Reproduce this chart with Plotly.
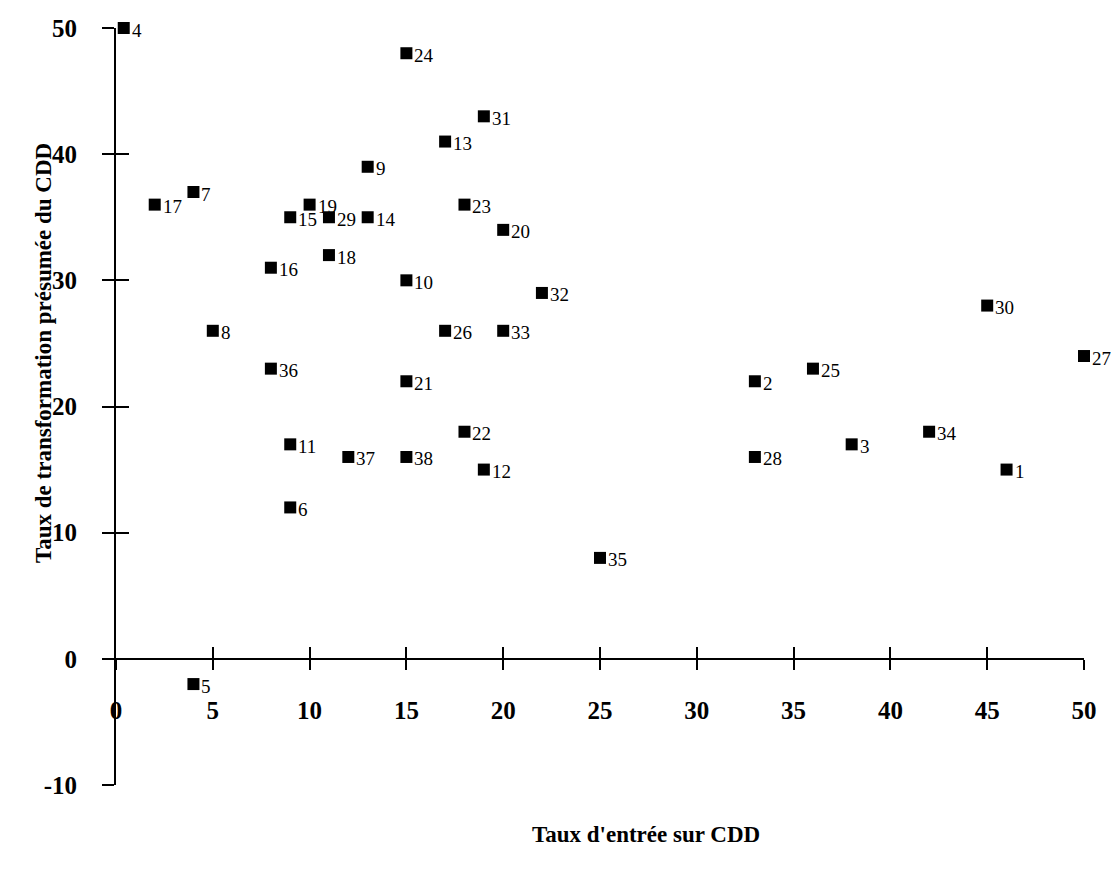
import plotly.graph_objects as go

ids = list(range(1, 39))
x_vals = [46, 33, 38, 0.4, 4, 9, 4, 5, 13, 15, 9, 19, 17, 13, 9, 8, 2, 11, 10, 20,
          15, 18, 18, 15, 36, 17, 50, 33, 11, 45, 19, 22, 20, 42, 25, 8, 12, 15]
y_vals = [15, 22, 17, 50, -2, 12, 37, 26, 39, 30, 17, 15, 41, 35, 35, 31, 36, 32, 36, 34,
          22, 18, 36, 48, 23, 26, 24, 16, 35, 28, 43, 29, 26, 18, 8, 23, 16, 16]
x_ticks = [0, 5, 10, 15, 20, 25, 30, 35, 40, 45, 50]
y_ticks = [-10, 0, 10, 20, 30, 40, 50]
y_ticktext = ["-10", "0", "10", "20", "30", "40", "50"]
x_title = "Taux d'entrée sur CDD"
y_title = "Taux de transformation présumée du CDD"

FONT = "Liberation Serif, Times New Roman, serif"

W, H = 1112, 853
L, R, T, B = 108, 36, 20, 76

fig = go.Figure()
fig.add_trace(go.Scatter(
    x=x_vals, y=y_vals, mode="markers",
    marker=dict(symbol="square", size=12, color="black"),
    cliponaxis=False, showlegend=False, hoverinfo="skip",
))
# invisible trace to activate overlay axes (for crossing ticks)
fig.add_trace(go.Scatter(
    x=x_vals, y=y_vals, mode="markers", xaxis="x2", yaxis="y2",
    marker=dict(size=1, color="rgba(0,0,0,0)"), showlegend=False, hoverinfo="skip",
))

annotations = []
for i, xv, yv in zip(ids, x_vals, y_vals):
    annotations.append(dict(
        x=xv, y=yv, xref="x", yref="y", text=str(i), showarrow=False,
        xanchor="left", yanchor="middle", xshift=7, yshift=-2, borderpad=0,
        font=dict(family=FONT, size=19, color="black"),
    ))

tick_font = dict(family=FONT, size=25, color="black", weight="bold")
title_font = dict(family=FONT, size=23, color="black", weight="bold")

pw = W - L - R
ph = H - T - B
annotations.append(dict(text=x_title, xref="paper", yref="paper",
                        x=(645 - 7 - L) / pw, y=-(833 - 784) / ph,
                        xanchor="center", yanchor="middle", showarrow=False, font=title_font))
annotations.append(dict(text=y_title, xref="paper", yref="paper",
                        x=-(113 - 40) / pw, y=(784 - 352) / ph,
                        xanchor="center", yanchor="middle", textangle=-90,
                        showarrow=False, font=title_font))

fig.update_layout(
    width=W, height=H,
    margin=dict(l=L, r=R, t=T, b=B, autoexpand=False),
    plot_bgcolor="white", paper_bgcolor="white",
    xaxis=dict(range=[0, 50], tickvals=x_ticks, anchor="free", position=1/6,
               showline=True, linecolor="black", linewidth=2,
               ticks="outside", ticklen=10, tickwidth=2, tickcolor="black",
               tickfont=tick_font, ticklabelstandoff=19,
               showgrid=False, zeroline=False, automargin=False),
    xaxis2=dict(range=[0, 50], tickvals=x_ticks, overlaying="x", anchor="free", position=1/6,
                showline=False, ticks="inside", ticklen=12, tickwidth=2, tickcolor="black",
                showticklabels=False, showgrid=False, zeroline=False, automargin=False),
    yaxis=dict(range=[-10, 50], tickvals=y_ticks, ticktext=y_ticktext, anchor="x",
               showline=True, linecolor="black", linewidth=2,
               ticks="outside", ticklen=12, tickwidth=2, tickcolor="black",
               tickfont=tick_font, ticklabelstandoff=20,
               showgrid=False, zeroline=False, automargin=False),
    yaxis2=dict(range=[-10, 50], tickvals=y_ticks, overlaying="y", anchor="x2",
                showline=False, ticks="inside", ticklen=13, tickwidth=2, tickcolor="black",
                showticklabels=False, showgrid=False, zeroline=False, automargin=False),
    annotations=annotations,
)

fig.write_html("out.html")
